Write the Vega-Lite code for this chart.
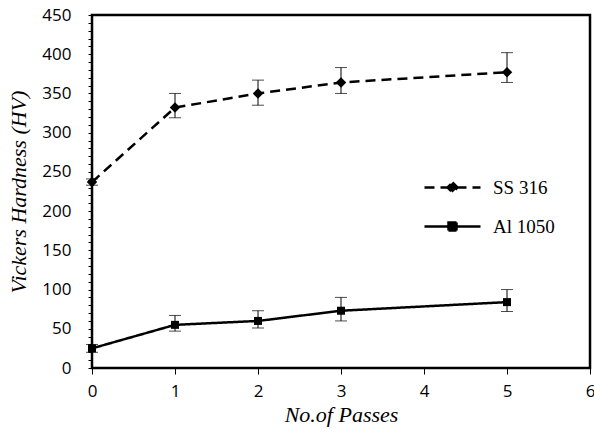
{
  "$schema": "https://vega.github.io/schema/vega-lite/v6.json",
  "autosize": "none",
  "padding": {"left": 92, "top": 15, "right": 4, "bottom": 68},
  "width": 498,
  "height": 353,
  "background": "white",
  "config": {
    "view": {"stroke": "black", "strokeWidth": 2.5},
    "axis": {"domain": false, "grid": false, "tickColor": "black", "labelColor": "black", "titleColor": "black", "labelFont": "Open Sans", "labelFontSize": 17, "titleFont": "Liberation Serif", "titleFontSize": 22, "titleFontStyle": "italic", "titleFontWeight": "normal"},
    "legend": {"labelFont": "Liberation Serif"}
  },
  "data": {
    "values": [
      {"series": "SS 316", "passes": 0, "hv": 237, "lo": 233, "hi": 241},
      {"series": "SS 316", "passes": 1, "hv": 332, "lo": 319, "hi": 350},
      {"series": "SS 316", "passes": 2, "hv": 350, "lo": 335, "hi": 367},
      {"series": "SS 316", "passes": 3, "hv": 364, "lo": 350, "hi": 383},
      {"series": "SS 316", "passes": 5, "hv": 377, "lo": 364, "hi": 402},
      {"series": "Al 1050", "passes": 0, "hv": 25, "lo": 20, "hi": 30},
      {"series": "Al 1050", "passes": 1, "hv": 55, "lo": 47, "hi": 67},
      {"series": "Al 1050", "passes": 2, "hv": 60, "lo": 51, "hi": 73},
      {"series": "Al 1050", "passes": 3, "hv": 73, "lo": 60, "hi": 90},
      {"series": "Al 1050", "passes": 5, "hv": 84, "lo": 72, "hi": 100}
    ]
  },
  "encoding": {
    "x": {"field": "passes", "type": "quantitative", "scale": {"domain": [0, 6], "nice": false},
      "axis": {"title": "No.of Passes", "values": [0, 1, 2, 3, 4, 5, 6], "tickSize": 6, "labelPadding": 9, "titlePadding": 5, "labelFlush": false, "labelOverlap": false,
        "encode": {"ticks": {"update": {"y2": {"value": -6}}}}}},
    "y": {"field": "hv", "type": "quantitative", "scale": {"domain": [0, 450], "nice": false},
      "axis": {"title": "Vickers Hardness (HV)", "values": [0,10,20,30,40,50,60,70,80,90,100,110,120,130,140,150,160,170,180,190,200,210,220,230,240,250,260,270,280,290,300,310,320,330,340,350,360,370,380,390,400,410,420,430,440,450],
        "labelExpr": "datum.value % 50 === 0 ? datum.label : ''", "labelOverlap": false, "labelFlush": false, "tickSize": 4, "labelPadding": 17, "titlePadding": 11,
        "encode": {"ticks": {"update": {"x2": {"signal": "datum.value % 50 === 0 ? 7 : 4"}}}}}}
  },
  "layer": [
    {
      "mark": {"type": "line", "color": "black", "strokeWidth": 2.5},
      "encoding": {
        "strokeDash": {"field": "series", "type": "nominal",
          "scale": {"domain": ["SS 316", "Al 1050"], "range": [[10, 6], [1, 0]]},
          "legend": {"title": null, "orient": "none", "legendX": 325, "legendY": 163, "symbolSize": 64, "symbolStrokeWidth": 2.5, "symbolStrokeColor": "black", "symbolFillColor": "black",
            "labelFont": "Liberation Serif", "labelFontSize": 19, "labelColor": "black", "rowPadding": 19, "labelOffset": 31, "symbolOffset": 26,
            "encode": {"symbols": {"update": {"shape": {"signal": "datum.value === 'SS 316' ? 'M-7,0H7M0,-1.25L1.25,0L0,1.25L-1.25,0Z' : 'M-7,0H7M-1,-1H1V1H-1Z'"}, "fill": {"value": "black"}, "stroke": {"value": "black"}, "strokeWidth": {"value": 2.5}}}}}}
      }
    },
    {
      "mark": {"type": "errorbar", "color": "black", "thickness": 1, "ticks": {"size": 12, "thickness": 1, "color": "black"}},
      "encoding": {
        "y": {"field": "lo", "type": "quantitative", "scale": {"domain": [0, 450], "nice": false},
          "axis": {"title": "Vickers Hardness (HV)", "values": [0,10,20,30,40,50,60,70,80,90,100,110,120,130,140,150,160,170,180,190,200,210,220,230,240,250,260,270,280,290,300,310,320,330,340,350,360,370,380,390,400,410,420,430,440,450],
            "labelExpr": "datum.value % 50 === 0 ? datum.label : ''", "labelOverlap": false, "labelFlush": false, "tickSize": 4, "labelPadding": 17, "titlePadding": 11,
            "encode": {"ticks": {"update": {"x2": {"signal": "datum.value % 50 === 0 ? 7 : 4"}}}}}},
        "y2": {"field": "hi"},
        "detail": {"field": "series"}
      }
    },
    {
      "transform": [{"filter": "datum.series === 'SS 316'"}],
      "mark": {"type": "point", "filled": true, "color": "black", "opacity": 1, "shape": "diamond", "size": 110}
    },
    {
      "transform": [{"filter": "datum.series === 'Al 1050'"}],
      "mark": {"type": "point", "filled": true, "color": "black", "opacity": 1, "shape": "square", "size": 64}
    }
  ]
}
